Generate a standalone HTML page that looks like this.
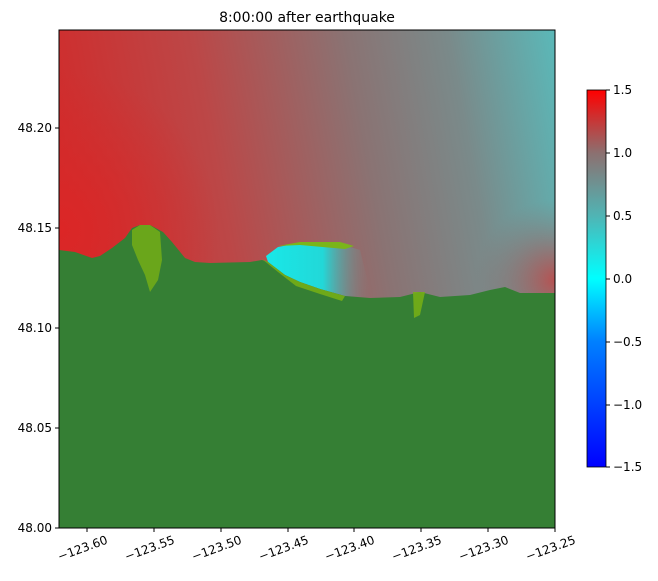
<!DOCTYPE html>
<html><head><meta charset="utf-8"><style>
html,body{margin:0;padding:0;background:#fff;}
svg{display:block;font-family:"DejaVu Sans","Liberation Sans",sans-serif;}
</style></head><body>
<svg width="658" height="581" viewBox="0 0 658 581" xmlns="http://www.w3.org/2000/svg">
<defs>
<linearGradient id="bg" x1="59" y1="150" x2="555" y2="60" gradientUnits="userSpaceOnUse">
<stop offset="0" stop-color="#d02c2c"/>
<stop offset="0.3" stop-color="#bc4747"/>
<stop offset="0.6" stop-color="#8a7373"/>
<stop offset="0.8" stop-color="#7a8a8a"/>
<stop offset="1" stop-color="#5cb6b6"/>
</linearGradient>
<radialGradient id="rbr" cx="555" cy="280" r="80" gradientUnits="userSpaceOnUse">
<stop offset="0" stop-color="#c04848" stop-opacity="0.9"/>
<stop offset="0.5" stop-color="#a85656" stop-opacity="0.4"/>
<stop offset="1" stop-color="#8a7373" stop-opacity="0"/>
</radialGradient>
<radialGradient id="rtl" cx="59" cy="230" r="160" gradientUnits="userSpaceOnUse">
<stop offset="0" stop-color="#dc2626" stop-opacity="1"/>
<stop offset="1" stop-color="#d42a2a" stop-opacity="0"/>
</radialGradient>
<linearGradient id="cy" x1="265" y1="0" x2="370" y2="0" gradientUnits="userSpaceOnUse">
<stop offset="0" stop-color="#18e8e8"/>
<stop offset="0.55" stop-color="#22d8d8"/>
<stop offset="1" stop-color="#7a8a8a" stop-opacity="0"/>
</linearGradient>
<linearGradient id="cb" x1="0" y1="467" x2="0" y2="90" gradientUnits="userSpaceOnUse">
<stop offset="0" stop-color="#0000ff"/>
<stop offset="0.333" stop-color="#0080ff"/>
<stop offset="0.5" stop-color="#00ffff"/>
<stop offset="0.667" stop-color="#50b4b4"/>
<stop offset="0.833" stop-color="#8c7070"/>
<stop offset="1" stop-color="#ff0000"/>
</linearGradient>
</defs>
<text x="307" y="22" font-size="14" text-anchor="middle">8:00:00 after earthquake</text>
<rect x="59" y="30" width="496" height="498" fill="url(#bg)"/>
<rect x="59" y="30" width="496" height="498" fill="url(#rtl)"/>
<rect x="59" y="30" width="496" height="498" fill="url(#rbr)"/>
<path d="M266,256 L278,247 L300,243 L340,244 L360,250 L372,298 L345,296 L320,289 L300,282 L285,275 L268,262 Z" fill="url(#cy)"/>
<path d="M278,246 L300,242 L340,242 L354,246 L345,249 L300,245 Z" fill="#7ab51a"/>
<path d="M59,250 L75,252 L92,258 L100,256 L112,248 L125,238 L132,228 L140,225 L150,225 L163,232 L172,242 L185,258 L195,262 L210,263 L250,262 L262,260 L268,262 L285,275 L300,282 L320,289 L345,296 L370,298 L400,297 L420,292 L440,297 L470,295 L490,290 L505,287 L520,293 L540,293 L555,293 L555,528 L59,528 Z" fill="#357f34"/>
<path d="M132,230 L140,225 L150,225 L160,232 L162,260 L158,280 L150,292 L145,275 L138,260 L132,245 Z" fill="#78b015" opacity="0.8"/>
<path d="M262,259 L268,262 L285,275 L300,282 L320,289 L345,296 L342,301 L320,294 L296,286 L278,272 Z" fill="#78b015" opacity="0.85"/>
<path d="M413,292 L425,292 L420,315 L414,318 Z" fill="#78b015" opacity="0.85"/>
<rect x="59" y="30" width="496" height="498" fill="none" stroke="#000" stroke-width="1"/>
<g font-size="12" fill="#000">
<g stroke="#000">
<line x1="87" y1="528" x2="87" y2="532"/><line x1="154" y1="528" x2="154" y2="532"/><line x1="221" y1="528" x2="221" y2="532"/><line x1="288" y1="528" x2="288" y2="532"/><line x1="354" y1="528" x2="354" y2="532"/><line x1="421" y1="528" x2="421" y2="532"/><line x1="488" y1="528" x2="488" y2="532"/><line x1="555" y1="528" x2="555" y2="532"/>
<line x1="55" y1="128" x2="59" y2="128"/><line x1="55" y1="228" x2="59" y2="228"/><line x1="55" y1="328" x2="59" y2="328"/><line x1="55" y1="428" x2="59" y2="428"/><line x1="55" y1="528" x2="59" y2="528"/>
</g>
<g text-anchor="middle">
<text transform="translate(84,552) rotate(-20)">−123.60</text>
<text transform="translate(151,552) rotate(-20)">−123.55</text>
<text transform="translate(218,552) rotate(-20)">−123.50</text>
<text transform="translate(285,552) rotate(-20)">−123.45</text>
<text transform="translate(351,552) rotate(-20)">−123.40</text>
<text transform="translate(418,552) rotate(-20)">−123.35</text>
<text transform="translate(485,552) rotate(-20)">−123.30</text>
<text transform="translate(552,552) rotate(-20)">−123.25</text>
</g>
<g text-anchor="end">
<text x="52" y="132">48.20</text><text x="52" y="232">48.15</text><text x="52" y="332">48.10</text><text x="52" y="432">48.05</text><text x="52" y="532">48.00</text>
</g>
<rect x="587" y="90" width="19" height="377" fill="url(#cb)" stroke="#000" stroke-width="0.8"/>
<g stroke="#000">
<line x1="606" y1="90" x2="610" y2="90"/><line x1="606" y1="153" x2="610" y2="153"/><line x1="606" y1="216" x2="610" y2="216"/><line x1="606" y1="279" x2="610" y2="279"/><line x1="606" y1="342" x2="610" y2="342"/><line x1="606" y1="405" x2="610" y2="405"/><line x1="606" y1="467" x2="610" y2="467"/>
</g>
<text x="613" y="94">1.5</text><text x="613" y="157">1.0</text><text x="613" y="220">0.5</text><text x="613" y="283">0.0</text><text x="613" y="346">−0.5</text><text x="613" y="409">−1.0</text><text x="613" y="471">−1.5</text>
</g>
</svg>
</body></html>
